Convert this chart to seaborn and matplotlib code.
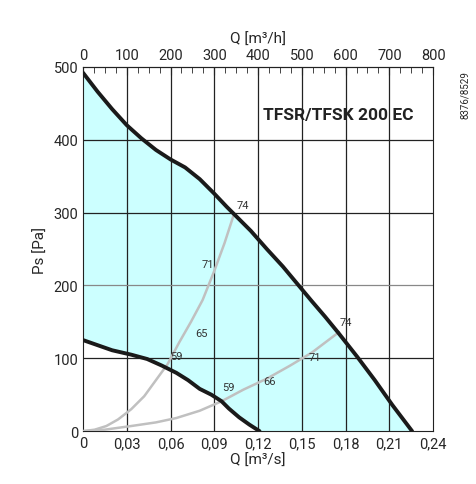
import numpy as np
import matplotlib.pyplot as plt
import seaborn as sns

sns.set_style("white")
plt.rcParams['font.family'] = ['Roboto', 'DejaVu Sans']

# max curve (m3/s, Pa)
max_q = [0.0, 0.01, 0.02, 0.03, 0.04, 0.05, 0.06, 0.07, 0.08, 0.09, 0.0985, 0.1035, 0.115,
         0.126, 0.137, 0.147, 0.157, 0.166, 0.175, 0.188, 0.2, 0.212, 0.2256]
max_p = [492, 466, 442, 420, 402, 386, 373, 362, 346, 326, 308, 298, 275,
         250, 226, 202, 178, 157, 135, 102, 70, 36, 0]
# min curve
min_q = [0.0, 0.01, 0.02, 0.033, 0.044, 0.054, 0.064, 0.072, 0.08, 0.088, 0.095, 0.1, 0.107, 0.114, 0.121]
min_p = [125, 118, 111, 105, 99, 90, 80, 70, 58, 50, 41, 31, 19, 9, 0]
# system curves
sys1_q = [0.0, 0.008, 0.016, 0.024, 0.033, 0.042, 0.05, 0.058, 0.066, 0.074, 0.082, 0.09, 0.097, 0.1035]
sys1_p = [0, 2, 7, 16, 30, 48, 70, 92, 122, 150, 180, 220, 258, 298]
sys2_q = [0.0, 0.015, 0.033, 0.05, 0.064, 0.08, 0.095, 0.11, 0.126, 0.142, 0.157, 0.1755]
sys2_p = [0, 2, 7, 12, 18, 28, 41, 57, 72, 90, 108, 136]
lbl_text = ["74", "74", "71", "71", "65", "59", "59", "66"]
lbl_q = [0.1095, 0.180, 0.0855, 0.159, 0.081, 0.064, 0.1, 0.128]
lbl_p = [310, 150, 229, 102, 135, 103, 60, 69]

fig = plt.figure(figsize=(4.77, 4.85), dpi=100)
ax = fig.add_axes([0.174, 0.109, 0.734, 0.751])

qq = np.linspace(0, 0.2256, 400)
upper = np.interp(qq, max_q, max_p)
lower = np.interp(qq, min_q, min_p)
ax.fill_between(qq, lower, upper, color='#ccffff', lw=0, zorder=1)

for x in np.arange(0.03, 0.24, 0.03):
    ax.axvline(x, color='#222222', lw=0.9, zorder=2)
for y in [100, 300, 400]:
    ax.axhline(y, color='#222222', lw=0.9, zorder=2)
ax.axhline(200, color='#888888', lw=0.9, zorder=2)

sns.lineplot(x=sys1_q, y=sys1_p, ax=ax, color='#c0c0c0', lw=1.8, zorder=3)
sns.lineplot(x=sys2_q, y=sys2_p, ax=ax, color='#c0c0c0', lw=1.8, zorder=3)
sns.lineplot(x=max_q, y=max_p, ax=ax, color='#1a1a1a', lw=2.8, zorder=4)
sns.lineplot(x=min_q, y=min_p, ax=ax, color='#1a1a1a', lw=2.8, zorder=4)

for t, x, y in zip(lbl_text, lbl_q, lbl_p):
    ax.text(x, y, t, fontsize=8, color='#333333', ha='center', va='center', zorder=5)

ax.set_xlim(0, 0.24)
ax.set_ylim(0, 500)
ax.set_xticks(np.arange(0, 0.241, 0.03))
ax.set_xticklabels(['0'] + [f"{v:.2f}".replace('.', ',') for v in np.arange(0.03, 0.241, 0.03)])
ax.set_yticks(range(0, 501, 100))
ax.set_yticks(range(0, 501, 20), minor=True)
ax.set_xticks(np.arange(0, 0.241, 0.0075), minor=True)
ax.tick_params(which='both', direction='in', length=4, width=0.8, labelsize=10.5)
ax.tick_params(which='major', length=6)
ax.set_xlabel('Q [m³/s]', fontsize=11, labelpad=2)
ax.set_ylabel('Ps [Pa]', fontsize=11)
for s in ax.spines.values():
    s.set_color('#222222')

top = ax.secondary_xaxis('top', functions=(lambda x: x * 800 / 0.24, lambda h: h * 0.24 / 800))
top.set_xticks(range(0, 801, 100))
top.set_xticks(range(0, 801, 25), minor=True)
top.tick_params(which='both', direction='in', length=4, labelsize=10.5)
top.tick_params(which='major', length=6)
top.set_xlabel('Q [m³/h]', fontsize=11)

ax.text(0.945, 0.87, 'TFSR/TFSK 200 EC', transform=ax.transAxes, ha='right', va='center',
        fontsize=12.5, fontweight='bold', color='#222222')
fig.text(0.975, 0.805, '8376/8529', rotation=90, fontsize=7, ha='center', va='center')

fig.savefig('out.png', dpi=100)
